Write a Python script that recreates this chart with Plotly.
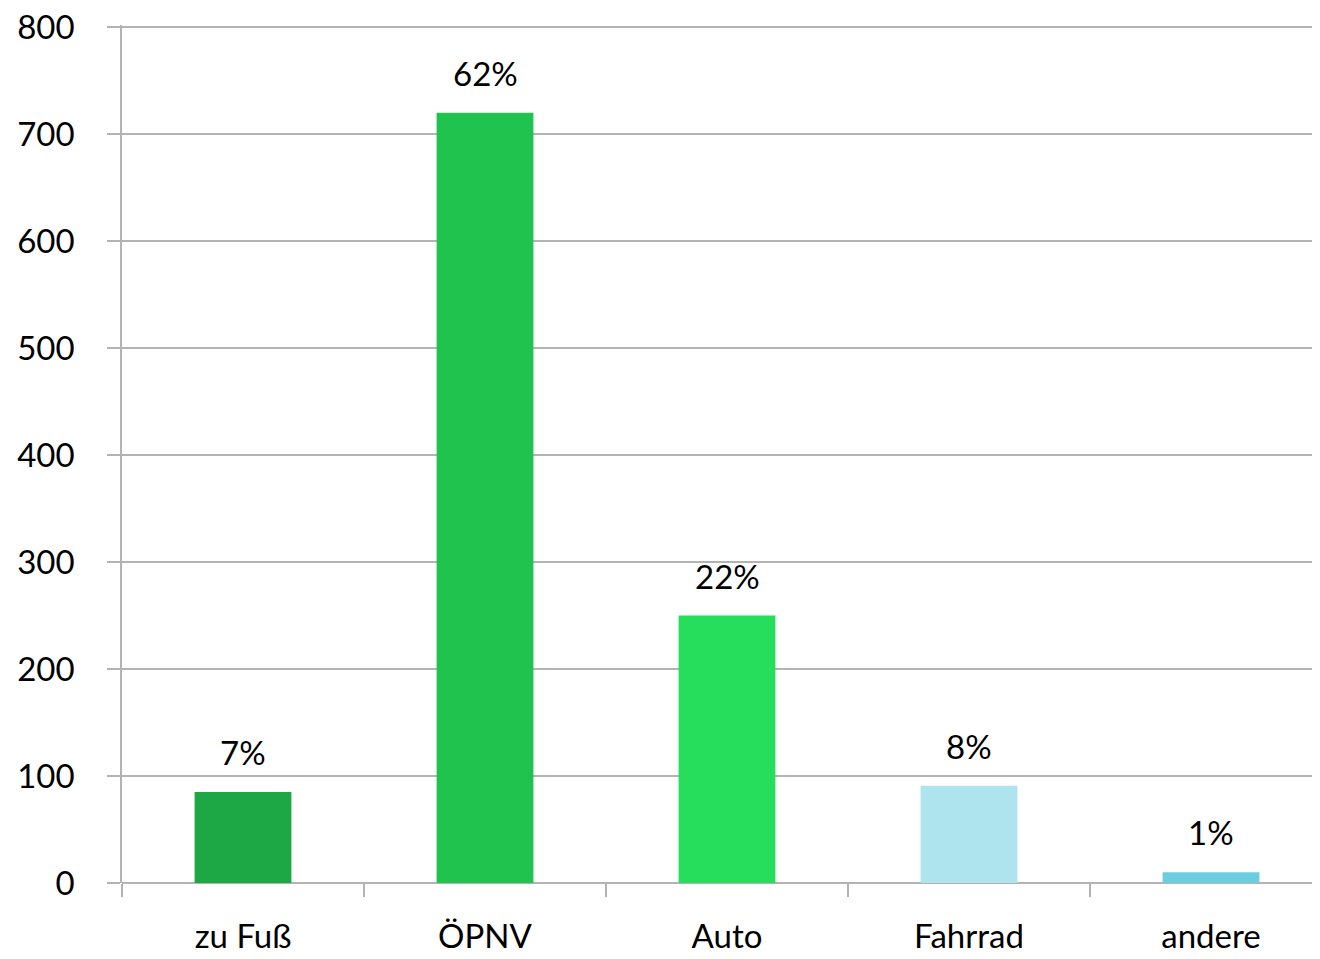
import plotly.graph_objects as go

categories = ["zu Fuß", "ÖPNV", "Auto", "Fahrrad", "andere"]
values = [85, 720, 250, 91, 10]
pct_labels = ["7%", "62%", "22%", "8%", "1%"]
colors = ["#1EA845", "#21C34F", "#27DE5C", "#AEE4EE", "#6CCDE0"]
y_ticks = [0, 100, 200, 300, 400, 500, 600, 700, 800]

FONT = "Lato"
GRID = "#b3b3b3"

fig = go.Figure()
fig.add_trace(go.Bar(
    x=categories, y=values,
    marker=dict(color=colors, line=dict(width=0)),
    width=0.4, showlegend=False, hoverinfo="skip",
))

for c, v, t in zip(categories, values, pct_labels):
    fig.add_annotation(x=c, y=v, text=t, showarrow=False, yanchor="bottom",
                       yshift=18, font=dict(family=FONT, size=33, color="#000000"))

fig.update_layout(
    width=1312, height=951,
    margin=dict(l=114, r=0, t=17, b=76, autoexpand=False),
    paper_bgcolor="white", plot_bgcolor="white",
    font=dict(family=FONT, size=33, color="#000000"),
)
fig.update_xaxes(
    type="category",
    range=[-0.5, 4.5 - 12 / 242],
    tickson="boundaries", ticks="outside", ticklen=13, tickcolor=GRID, tickwidth=1.5,
    showgrid=False, showline=False, zeroline=False,
    automargin=False,
    ticklabelstandoff=31,
    ticklabeloverflow="allow",
    tickfont=dict(family=FONT, size=33, color="#000000"),
)
fig.update_yaxes(
    range=[0, 802], tickvals=y_ticks,
    showgrid=True, gridcolor=GRID, gridwidth=1.5,
    zeroline=True, zerolinecolor=GRID, zerolinewidth=1.5,
    showline=True, linecolor=GRID, linewidth=1.5,
    ticks="outside", ticklen=13, tickcolor=GRID, tickwidth=1.5,
    automargin=False,
    ticklabelstandoff=26,
    ticklabeloverflow="allow",
    tickfont=dict(family=FONT, size=33, color="#000000"),
)

fig.write_html("out.html")
